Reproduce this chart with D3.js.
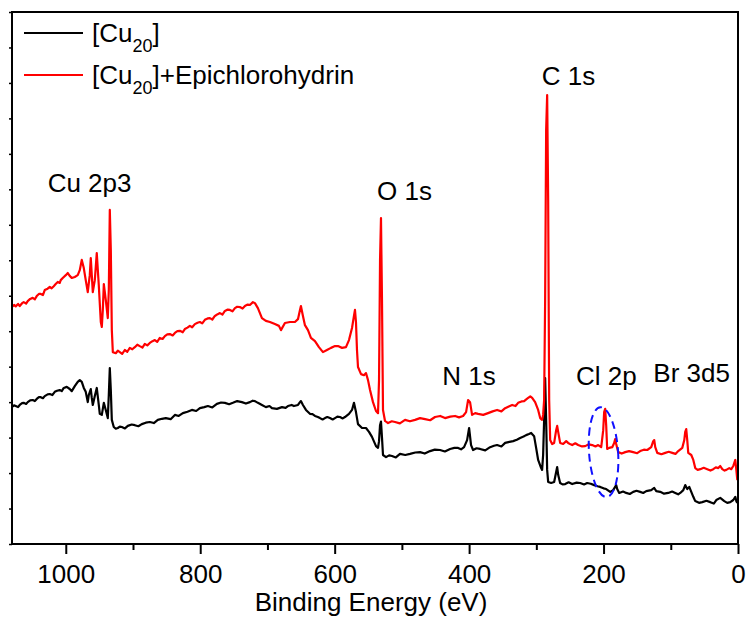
<!DOCTYPE html>
<html>
<head>
<meta charset="utf-8">
<script src="https://cdn.jsdelivr.net/npm/d3@7"></script>
<style>
  html, body { margin: 0; padding: 0; background: #fff; }
  svg { display: block; font-family: Arial, "Liberation Sans", sans-serif; }
</style>
</head>
<body>
<svg id="chart" width="748" height="621"></svg>
<script>
// XPS survey spectra: [binding energy (eV), intensity (a.u.)]
const cu20Scan = [
  [1080.4,3.86],[1077,3.91],[1074.5,3.89],[1071,3.86],[1068.5,3.92],[1065,3.97],[1062.6,3.98],
  [1059,3.95],[1056.6,4.00],[1053,4.05],[1049.2,4.06],[1046,4.03],[1043.2,4.09],[1040,4.14],
  [1037.2,4.14],[1034,4.11],[1031.3,4.17],[1027,4.22],[1023.8,4.23],[1020,4.20],[1016.4,4.29],
  [1013,4.32],[1009.0,4.34],[1006,4.31],[1003.0,4.40],[998.5,4.43],
  [994.1,4.37],[991.1,4.31],[986.6,4.45],[982.2,4.57],[979.2,4.62],[976.2,4.57],[973.2,4.40],
  [970.3,4.29],[967.3,4.00],[965.8,4.20],[962.8,4.37],[961.3,4.12],[959.8,3.92],[956.8,4.17],
  [953.9,4.40],[950.9,3.92],[949.4,3.67],[946.4,3.64],[943.4,3.98],[940.5,3.78],[937.5,3.55],
  [936.0,4.20],[934.5,4.96],[933.0,4.34],[931.5,3.50],[928.6,3.30],[925.6,3.25],[922.6,3.27],
  [919.6,3.31],[916.6,3.30],[912,3.26],[907.7,3.33],[902,3.37],[897.3,3.35],[892,3.32],
  [886.9,3.38],[881,3.42],[875.0,3.44],[869,3.41],[863.1,3.50],[857,3.53],[851.2,3.55],
  [844,3.52],[837.7,3.64],[832,3.61],[825.8,3.69],[819,3.73],[812.4,3.78],[806,3.75],
  [800.5,3.83],[794,3.86],[788.6,3.89],[782,3.85],[775.2,3.95],[769,3.99],[763.3,3.98],
  [757,3.94],[751.4,3.98],[745,4.03],[738.0,4.00],[732,3.96],[726.1,4.00],[722,4.04],
  [718.6,4.03],[714.2,3.98],[708.2,3.92],[702.3,3.86],[697,3.89],[693.3,3.83],
  [685.9,3.81],[678.4,3.86],[673,3.84],[669.5,3.89],[664,3.92],[660.6,3.89],[654.6,3.92],
  [651.6,4.00],[650.2,4.03],[647.2,3.92],[642.7,3.78],[636.8,3.67],[633,3.66],[629.3,3.61],
  [625,3.58],[621.9,3.55],[618,3.51],[614.4,3.55],[611,3.58],[607.0,3.55],[603,3.51],
  [599.5,3.55],[596,3.59],[592.1,3.58],[588,3.54],[584.7,3.58],[578.7,3.67],[574.2,3.78],
  [571.3,3.98],[568.3,3.72],[565.3,3.38],[559.3,3.27],[553.4,3.27],[548.9,3.16],[544.5,3.02],
  [538.5,2.76],[535.5,2.71],[534.0,2.90],[532.5,3.35],[531.1,3.45],[529.6,3.00],[528.1,2.51],
  [523.6,2.45],[519,2.50],[514.7,2.48],[509,2.44],[502.8,2.54],[495,2.51],[487.9,2.54],
  [480,2.58],[473.0,2.59],[466,2.55],[458.1,2.62],[451,2.66],[443.2,2.65],[436,2.61],
  [428.3,2.68],[422,2.71],[416.4,2.71],[412,2.67],[407.5,2.73],
  [403.0,2.93],[400.0,3.27],[397.1,2.79],[394.1,2.65],[389,2.70],[383.7,2.68],[376,2.64],
  [368.8,2.73],[363,2.77],[358.4,2.79],[352,2.75],[346.4,2.85],[340,2.88],[334.5,2.90],
  [329,2.94],[324.1,2.99],[319,3.03],[315.2,3.07],[311,3.10],[307.7,3.13],[303.3,3.04],
  [300.3,2.71],[297.3,2.37],[292.8,2.14],[291.4,2.09],[289.9,2.51],[288.4,3.50],[286.9,4.68],
  [285.4,3.50],[283.9,2.09],[282.4,1.75],[278.0,1.72],[273.5,1.75],[270.5,2.03],[269.0,2.17],
  [267.5,1.95],[264.6,1.72],[261,1.68],[257.1,1.69],[252,1.74],[246.7,1.69],[240,1.73],
  [234.8,1.72],[229,1.68],[224.4,1.72],[219,1.70],[213.9,1.66],[209,1.63],[205.0,1.61],
  [200,1.57],[196.1,1.55],[190.1,1.47],[185.7,1.52],[181.2,1.66],[179.7,1.55],[176.7,1.44],
  [171,1.48],[166.3,1.44],[161,1.41],[155.9,1.47],[151,1.50],[145.5,1.47],[141,1.44],
  [136.5,1.49],[129.1,1.52],[124.6,1.58],[121.6,1.49],
  [115.7,1.47],[110,1.42],[103.8,1.44],[98,1.48],[93.3,1.44],[89,1.40],[85.9,1.44],
  [81.4,1.52],[78.5,1.66],[75.5,1.55],[72.5,1.61],[69.5,1.47],[66.5,1.33],[63.6,1.21],
  [58,1.16],[53.1,1.18],[47,1.22],[41.2,1.18],[36,1.14],[32.3,1.24],
  [26.4,1.30],[20.4,1.21],[16,1.16],[11.5,1.18],[7.0,1.24],[4.0,1.33],[2.5,1.21],[1.0,1.16]
];

const cu20EpoxyScan = [
  [1080.4,6.68],[1077,6.74],[1074.5,6.70],[1071,6.77],[1068.5,6.71],[1065,6.79],[1062.6,6.82],
  [1059,6.78],[1056.6,6.85],[1053,6.91],[1049.2,6.94],[1046,6.90],[1043.2,6.99],[1040,7.05],
  [1037.2,7.05],[1034,7.02],[1031.3,7.16],[1027,7.20],[1023.8,7.25],[1021,7.21],[1017.9,7.27],
  [1015,7.33],[1011.9,7.39],[1009,7.36],[1007.5,7.44],[1004.5,7.50],
  [1000.0,7.58],[997.0,7.64],[994.1,7.56],[991.1,7.50],[986.6,7.53],[982.2,7.58],[979.2,7.72],
  [976.2,8.01],[973.2,7.78],[970.3,7.44],[967.3,7.10],[964.3,7.58],[962.8,8.06],[961.3,7.58],
  [959.8,7.10],[956.8,7.44],[953.9,8.20],[950.9,7.30],[947.9,6.26],[946.4,6.12],[944.9,6.60],
  [943.4,7.33],[940.5,6.88],[937.5,6.37],[936.0,7.16],[934.5,9.42],[933.0,8.29],[931.5,6.03],
  [930.0,5.41],[925.6,5.38],[922.6,5.45],[919.6,5.41],[916.1,5.36],[912.2,5.47],[908.5,5.42],
  [904.7,5.53],[901,5.49],[897.3,5.55],[893.6,5.62],[889.9,5.58],[886,5.54],[882.4,5.64],
  [878.7,5.60],[875.0,5.67],[871,5.72],[867.5,5.75],[864,5.70],[860.1,5.81],[856,5.78],
  [852.6,5.86],[849,5.91],[845.2,5.92],[841,5.88],[837.7,5.95],[834,6.00],[830.3,6.01],
  [826,5.97],[822.9,6.06],[819,6.10],[815.4,6.15],[812,6.11],[808.0,6.20],[804,6.24],
  [800.5,6.26],[797,6.22],[793.1,6.32],[789,6.36],[785.6,6.37],[782,6.33],[778.2,6.43],
  [774,6.48],[770.7,6.51],[767,6.47],[763.3,6.57],[759,6.61],[755.9,6.60],[752,6.56],
  [748.4,6.65],[745,6.69],[741.0,6.68],[737,6.64],[733.5,6.71],[730,6.75],[726.1,6.74],
  [721.6,6.82],[718.6,6.79],[714.2,6.65],[708.2,6.37],[702.3,6.29],[696.3,6.26],
  [688.9,6.20],[682.9,6.15],[679.9,6.03],[674.0,6.23],[666.5,6.26],[659.1,6.26],[654.6,6.34],
  [651.6,6.60],[650.2,6.71],[647.2,6.43],[644.2,6.17],[639.7,6.03],[635.3,5.81],[629.3,5.72],
  [623.4,5.55],[617.4,5.41],[611.5,5.47],[605.5,5.53],[599.5,5.58],[595.1,5.58],[589.1,5.53],
  [583.2,5.55],[578.7,5.75],[574.2,6.09],[571.3,6.43],[569.8,6.60],[568.3,6.26],[566.8,5.47],
  [565.3,4.99],[560.8,4.79],[556.4,4.76],[553.4,4.82],[550.4,4.62],[547.4,4.34],[543.0,4.00],
  [538.5,3.75],[535.5,3.69],[534.0,4.62],[532.5,8.01],[531.1,9.19],[529.6,6.88],[528.1,3.78],
  [525.1,3.47],[520.6,3.41],[515,3.46],[510.2,3.44],[503,3.40],[495.3,3.50],[488,3.46],
  [480.4,3.50],[473,3.55],[465.5,3.52],[458,3.49],[450.7,3.58],[443,3.61],[435.8,3.55],
  [428,3.59],[420.9,3.61],[415,3.57],[409.0,3.61],
  [404.5,3.72],[401.5,4.06],[398.6,4.00],[395.6,3.64],[391,3.69],[386.6,3.67],[379,3.64],
  [371.8,3.69],[365,3.74],[358.4,3.78],[352,3.74],[346.4,3.83],[341,3.88],[336.0,3.92],
  [331,3.89],[327.1,3.98],[322,4.02],[318.2,4.03],[315,4.08],[312.2,4.12],[309,4.16],
  [306.2,4.12],[301.8,4.00],[297.3,3.78],[294.3,3.55],[291.4,3.50],[289.9,3.64],
  [288.4,4.06],[286.9,6.88],[285.4,11.67],[283.9,12.66],[282.4,9.70],[280.9,4.06],[279.4,2.93],
  [276.5,2.82],[273.5,2.85],[270.5,3.21],[269.0,3.33],[267.5,3.16],[264.6,2.85],[260.1,2.82],
  [255.6,2.90],[252.7,2.85],[249,2.81],[246.7,2.79],[242,2.84],[237.8,2.79],[232,2.75],
  [227.3,2.76],[222,2.81],[216.9,2.79],[212,2.75],[208.0,2.79],
  [203.5,2.73],[200.5,3.21],[199.1,3.72],[197.6,3.81],[196.1,3.35],[194.6,2.68],[191.6,2.71],
  [187.1,2.73],[184.2,2.85],[182.7,2.96],[181.2,2.82],[178.2,2.59],[173,2.55],[167.8,2.59],
  [162,2.62],[155.9,2.59],[150,2.56],[145.5,2.62],[140,2.66],[135.0,2.65],[129.1,2.73],
  [126.1,2.90],[124.6,2.93],[123.1,2.73],[120.1,2.57],[114,2.53],[108.2,2.57],[103,2.60],
  [97.8,2.57],[93,2.54],[88.9,2.62],[82.9,2.71],[79.9,2.93],[78.5,3.16],[77.0,3.24],
  [75.5,2.93],[74.0,2.57],[69.5,2.51],[66.5,2.37],[63.6,2.14],[60,2.09],[56.1,2.11],
  [51,2.15],[45.7,2.11],[41,2.07],[36.8,2.11],[33,2.16],[29.3,2.14],[26.4,2.20],[23.4,2.11],
  [20,2.07],[17.4,2.09],[13,2.14],[10.0,2.11],[7.0,2.20],[4.0,2.37],[2.5,2.09],[1.0,1.80]
];

const majorTicks = [1000, 800, 600, 400, 200, 0];
const minorTicks = [900, 700, 500, 300, 100];
const intensityTicks = d3.range(0, 16, 1);

const peakLabels = ["Cu 2p3", "O 1s", "C 1s", "N 1s", "Cl 2p", "Br 3d5"];
const seriesNames = ["[Cu20]", "[Cu20]+Epichlorohydrin"];

// ---- layout ----
const svg = d3.select("#chart");
const margin = { top: 12, right: 10, bottom: 77, left: 12 };
const W = 748 - margin.left - margin.right;
const H = 621 - margin.top - margin.bottom;

const g = svg.append("g").attr("transform", `translate(${margin.left},${margin.top})`);

const x = d3.scaleLinear().domain([1080, 0]).range([0, W]);
const y = d3.scaleLinear().domain([0, 15]).range([H, 0]);

// ---- axes ----
const xMajor = g.append("g").attr("transform", `translate(0,${H})`)
  .call(d3.axisBottom(x).tickValues(majorTicks).tickSize(10).tickFormat(d3.format("d")));
xMajor.select(".domain").remove();
xMajor.selectAll(".tick line").attr("stroke", "#000").attr("stroke-width", 2);
xMajor.selectAll(".tick text")
  .attr("y", 39).attr("dy", null)
  .attr("font-size", 26).attr("fill", "#000")
  .attr("font-family", "Arial, 'Liberation Sans', sans-serif");

const xMinor = g.append("g").attr("transform", `translate(0,${H})`)
  .call(d3.axisBottom(x).tickValues(minorTicks).tickSize(6).tickFormat(""));
xMinor.select(".domain").remove();
xMinor.selectAll(".tick line").attr("stroke", "#000").attr("stroke-width", 2);

const yAxis = g.append("g")
  .call(d3.axisLeft(y).tickValues(intensityTicks).tickSize(3).tickFormat(""));
yAxis.select(".domain").remove();
yAxis.selectAll(".tick line").attr("stroke", "#000").attr("stroke-width", 1.5);

g.append("text")
  .attr("x", W / 2 - 4).attr("y", H + 67)
  .attr("text-anchor", "middle")
  .attr("font-size", 26)
  .text("Binding Energy (eV)");

// ---- spectra ----
const line = d3.line()
  .x(d => x(d[0]))
  .y(d => y(d[1]));

g.append("path").datum(cu20Scan)
  .attr("fill", "none").attr("stroke", "#000").attr("stroke-width", 2.2)
  .attr("stroke-linejoin", "round").attr("d", line);

g.append("path").datum(cu20EpoxyScan)
  .attr("fill", "none").attr("stroke", "#ff0000").attr("stroke-width", 2.2)
  .attr("stroke-linejoin", "round").attr("d", line);

// ---- Cl 2p highlight ----
const ex = x(200), ey = y(2.59);
g.append("ellipse")
  .attr("cx", 0).attr("cy", 0)
  .attr("rx", x(0) - x(21.6)).attr("ry", y(0) - y(1.27))
  .attr("transform", `translate(${ex},${ey}) rotate(-4)`)
  .attr("fill", "none").attr("stroke", "#1010ff").attr("stroke-width", 2)
  .attr("stroke-dasharray", "8,5");

// ---- peak labels ----
const labelPos = [
  { at: 1027, dy: 180 },
  { at: 537, dy: 188 },
  { at: 292, dy: 73 },
  { at: 440, dy: 373 },
  { at: 241, dy: 373 },
  { at: 126, dy: 370 }
];
g.selectAll("text.peak").data(peakLabels).join("text")
  .attr("class", "peak")
  .attr("x", (d, i) => x(labelPos[i].at))
  .attr("y", (d, i) => labelPos[i].dy)
  .attr("font-size", 26)
  .text(d => d);

// ---- frame ----
g.append("rect")
  .attr("x", 0).attr("y", 0).attr("width", W).attr("height", H)
  .attr("fill", "none").attr("stroke", "#000").attr("stroke-width", 2);

// ---- legend ----
const legendColors = ["#000", "#ff0000"];
const legend = g.append("g");
seriesNames.forEach((name, i) => {
  const ly = 21 + i * 42;
  legend.append("line")
    .attr("x1", 12).attr("x2", 71).attr("y1", ly).attr("y2", ly)
    .attr("stroke", legendColors[i]).attr("stroke-width", 2);
  const t = legend.append("text")
    .attr("x", 80).attr("y", ly + 9)
    .attr("font-size", 26);
  const m = name.match(/^\[Cu(\d+)\](.*)$/);
  t.append("tspan").text("[Cu");
  t.append("tspan").attr("font-size", 18).attr("dy", 10).text(m[1]);
  t.append("tspan").attr("dy", -10).text("]" + m[2]);
});
</script>
</body>
</html>
